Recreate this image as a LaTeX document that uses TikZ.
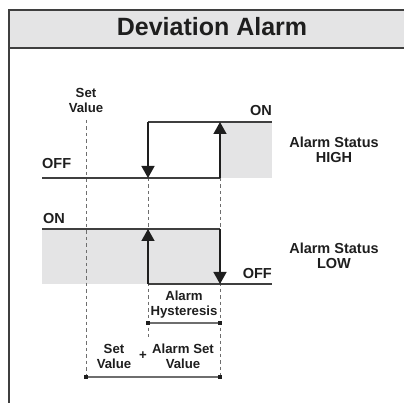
\documentclass[tikz,border=0pt]{standalone}
\usepackage{fontspec}
\setmainfont{Liberation Sans}
\usetikzlibrary{arrows.meta}

\definecolor{panel}{HTML}{E4E4E5}
\definecolor{ink}{HTML}{1E1E1E}
\definecolor{rim}{HTML}{3F3F3F}
\definecolor{guide}{HTML}{6E6E6E}

\tikzset{
  signal/.style={line width=1.5pt, draw=rim},
  flank/.style={line width=1.4pt, draw=ink, -{Triangle[width=13pt,length=12pt]}},
  guideline/.style={dash pattern=on 3.5pt off 3pt, line width=1pt, draw=guide},
  dimline/.style={line width=1.3pt, draw=guide},
  lbl/.style={font=\bfseries\fontsize{14.5}{15}\selectfont, text=ink, inner sep=0pt, align=center},
  small/.style={font=\bfseries\fontsize{13.2}{15}\selectfont, text=ink, inner sep=0pt, align=center},
}

\begin{document}
\begin{tikzpicture}[x=1pt, y=-1pt]
  \useasboundingbox (0,0) rectangle (404,403);

  % title bar
  \fill[panel] (9,10) rectangle (406,48);
  \draw[rim, line width=1.8pt] (406,10) -- (9,10) -- (9,405);
  \draw[rim, line width=1.8pt] (9,48) -- (406,48);
  \node[font=\bfseries\fontsize{25}{30}\selectfont, text=ink, anchor=base] (title) at (212,36) {Deviation Alarm};

  % points of the two traces
  \coordinate (hOffL) at (42,178);
  \coordinate (hRise) at (220,178);
  \coordinate (hTop) at (220,122);
  \coordinate (hFall) at (148,122);
  \coordinate (hFallB) at (148,178);
  \coordinate (hOnR) at (272,122);

  \coordinate (lOnL) at (42,229);
  \coordinate (lOnR) at (220,229);
  \coordinate (lDrop) at (220,284);
  \coordinate (lOffL) at (148,284);
  \coordinate (lRise) at (148,229);
  \coordinate (lOffR) at (272,284);

  \fill[panel] (hTop) rectangle (272,178);
  \fill[panel] (lOnL) rectangle (lDrop);

  % guide lines
  \draw[guideline] (86,120) -- (86,377);
  \draw[guideline] (148,178) -- (148,337);
  \draw[guideline] (220,178) -- (220,377);

  % alarm status high
  \draw[signal] (hOffL) -- (hRise);
  \draw[signal] (hFall) -- (hOnR);
  \draw[flank] (hFall) -- (hFallB);
  \draw[flank] (hRise) -- (hTop);

  % alarm status low
  \draw[signal] (lOnL) -- (lOnR);
  \draw[signal] (lOffL) -- (lOffR);
  \draw[flank] (lOnR) -- (lDrop);
  \draw[flank] (lOffL) -- (lRise);

  \node[lbl, anchor=base east] (hOn) at (272,116) {ON};
  \node[lbl, anchor=base west] (hOff) at (42,169) {OFF};
  \node[lbl, anchor=base west] (lOn) at (43,224) {ON};
  \node[lbl, anchor=base east] (lOff) at (272,278) {OFF};

  % second line sits on the given baseline
  \node[small, anchor=base] (sv) at (86,113) {Set\\Value};
  \node[lbl, anchor=base] (high) at (334,163) {Alarm Status\\HIGH};
  \node[lbl, anchor=base] (low) at (334,269) {Alarm Status\\LOW};

  % dimensions
  \coordinate (hyA) at (148,323);
  \coordinate (hyB) at (220,323);
  \coordinate (svA) at (86,377);
  \coordinate (svB) at (220,377);
  \draw[dimline] (hyA) -- (hyB);
  \draw[dimline] (svA) -- (svB);
  \foreach \p in {hyA,hyB,svA,svB}{
    \fill[ink] (\p) ++(-2.2,-2.2) rectangle ++(4.4,4.4);
  }

  \node[small, anchor=base] (hyst) at (184,315) {Alarm\\Hysteresis};
  \node[small, anchor=base] (setv) at (114,368) {Set\\Value};
  \node[small] (plus) at (143,356) {+};
  \node[small, anchor=base] (alset) at (183,368) {Alarm Set\\Value};
\end{tikzpicture}
\end{document}
